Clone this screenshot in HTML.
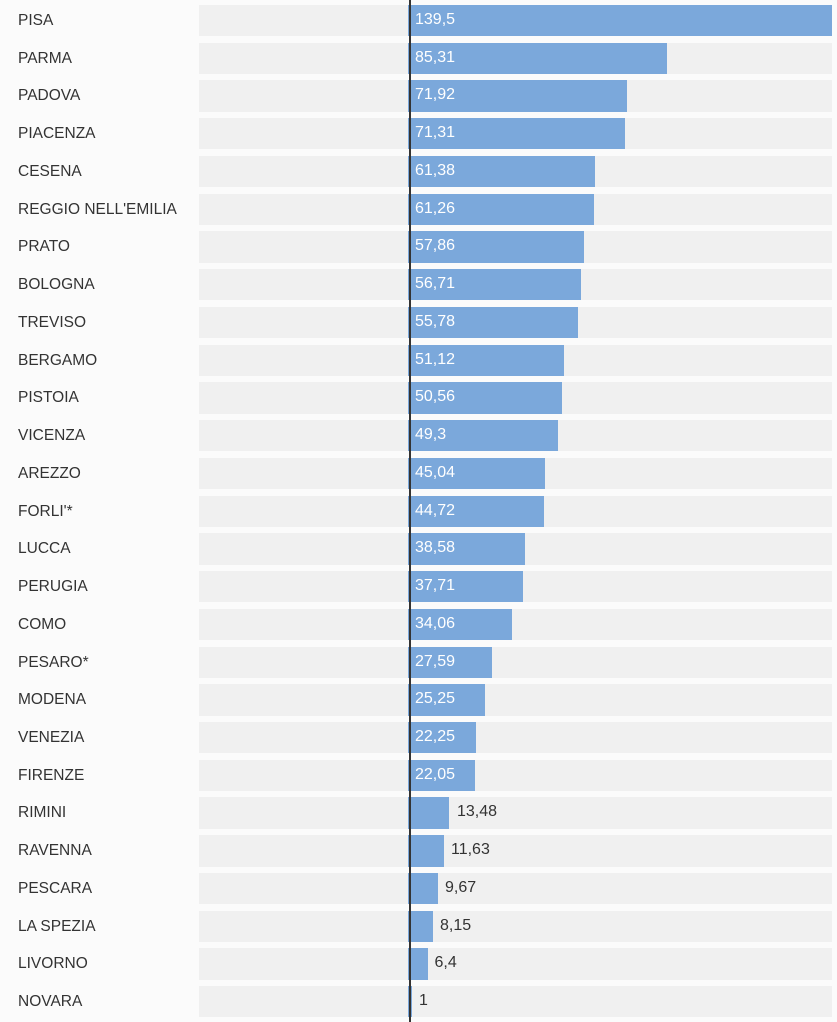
<!DOCTYPE html>
<html>
<head>
<meta charset="utf-8">
<style>
  html,body{margin:0;padding:0;}
  body{width:837px;height:1022px;background:#fbfbfb;position:relative;overflow:hidden;font-family:"Liberation Sans",Arial,sans-serif;color:#333;}
  .r{position:absolute;left:0;width:837px;height:31.4px;}
  .l{position:absolute;left:18px;top:0;height:31.4px;line-height:31.4px;font-size:15.5px;color:#333;white-space:nowrap;}
  .g{position:absolute;left:199px;top:0;width:632.5px;height:31.4px;background:#f0f0f0;}
  .b{position:absolute;left:408.2px;top:0;height:31.4px;background:#7ba8db;}
  .v{position:absolute;top:-1px;height:31.4px;line-height:31.4px;font-size:16px;white-space:nowrap;}
  .vi{left:415px;color:#fff;}
  .vo{color:#333;}
  .axis{position:absolute;left:409px;top:0;width:1.8px;height:1022px;background:#333;}
</style>
</head>
<body>
<div class="r" style="top:4.9px"><div class="l">PISA</div><div class="g"></div><div class="b" style="width:423.5px"></div><div class="v vi">139,5</div></div>
<div class="r" style="top:42.6px"><div class="l">PARMA</div><div class="g"></div><div class="b" style="width:259.3px"></div><div class="v vi">85,31</div></div>
<div class="r" style="top:80.4px"><div class="l">PADOVA</div><div class="g"></div><div class="b" style="width:218.6px"></div><div class="v vi">71,92</div></div>
<div class="r" style="top:118.1px"><div class="l">PIACENZA</div><div class="g"></div><div class="b" style="width:216.8px"></div><div class="v vi">71,31</div></div>
<div class="r" style="top:155.9px"><div class="l">CESENA</div><div class="g"></div><div class="b" style="width:186.6px"></div><div class="v vi">61,38</div></div>
<div class="r" style="top:193.6px"><div class="l">REGGIO NELL'EMILIA</div><div class="g"></div><div class="b" style="width:186.2px"></div><div class="v vi">61,26</div></div>
<div class="r" style="top:231.3px"><div class="l">PRATO</div><div class="g"></div><div class="b" style="width:175.9px"></div><div class="v vi">57,86</div></div>
<div class="r" style="top:269.1px"><div class="l">BOLOGNA</div><div class="g"></div><div class="b" style="width:172.4px"></div><div class="v vi">56,71</div></div>
<div class="r" style="top:306.8px"><div class="l">TREVISO</div><div class="g"></div><div class="b" style="width:169.6px"></div><div class="v vi">55,78</div></div>
<div class="r" style="top:344.6px"><div class="l">BERGAMO</div><div class="g"></div><div class="b" style="width:155.4px"></div><div class="v vi">51,12</div></div>
<div class="r" style="top:382.3px"><div class="l">PISTOIA</div><div class="g"></div><div class="b" style="width:153.7px"></div><div class="v vi">50,56</div></div>
<div class="r" style="top:420.0px"><div class="l">VICENZA</div><div class="g"></div><div class="b" style="width:149.9px"></div><div class="v vi">49,3</div></div>
<div class="r" style="top:457.8px"><div class="l">AREZZO</div><div class="g"></div><div class="b" style="width:136.9px"></div><div class="v vi">45,04</div></div>
<div class="r" style="top:495.5px"><div class="l">FORLI'*</div><div class="g"></div><div class="b" style="width:135.9px"></div><div class="v vi">44,72</div></div>
<div class="r" style="top:533.3px"><div class="l">LUCCA</div><div class="g"></div><div class="b" style="width:117.3px"></div><div class="v vi">38,58</div></div>
<div class="r" style="top:571.0px"><div class="l">PERUGIA</div><div class="g"></div><div class="b" style="width:114.6px"></div><div class="v vi">37,71</div></div>
<div class="r" style="top:608.7px"><div class="l">COMO</div><div class="g"></div><div class="b" style="width:103.5px"></div><div class="v vi">34,06</div></div>
<div class="r" style="top:646.5px"><div class="l">PESARO*</div><div class="g"></div><div class="b" style="width:83.9px"></div><div class="v vi">27,59</div></div>
<div class="r" style="top:684.2px"><div class="l">MODENA</div><div class="g"></div><div class="b" style="width:76.8px"></div><div class="v vi">25,25</div></div>
<div class="r" style="top:722.0px"><div class="l">VENEZIA</div><div class="g"></div><div class="b" style="width:67.6px"></div><div class="v vi">22,25</div></div>
<div class="r" style="top:759.7px"><div class="l">FIRENZE</div><div class="g"></div><div class="b" style="width:67.0px"></div><div class="v vi">22,05</div></div>
<div class="r" style="top:797.4px"><div class="l">RIMINI</div><div class="g"></div><div class="b" style="width:41.0px"></div><div class="v vo" style="left:457px">13,48</div></div>
<div class="r" style="top:835.2px"><div class="l">RAVENNA</div><div class="g"></div><div class="b" style="width:35.4px"></div><div class="v vo" style="left:451px">11,63</div></div>
<div class="r" style="top:872.9px"><div class="l">PESCARA</div><div class="g"></div><div class="b" style="width:29.4px"></div><div class="v vo" style="left:445px">9,67</div></div>
<div class="r" style="top:910.7px"><div class="l">LA SPEZIA</div><div class="g"></div><div class="b" style="width:24.8px"></div><div class="v vo" style="left:440px">8,15</div></div>
<div class="r" style="top:948.4px"><div class="l">LIVORNO</div><div class="g"></div><div class="b" style="width:19.5px"></div><div class="v vo" style="left:434.5px">6,4</div></div>
<div class="r" style="top:986.1px"><div class="l">NOVARA</div><div class="g"></div><div class="b" style="width:3.6px"></div><div class="v vo" style="left:419px">1</div></div>
<div class="axis"></div>
</body>
</html>
